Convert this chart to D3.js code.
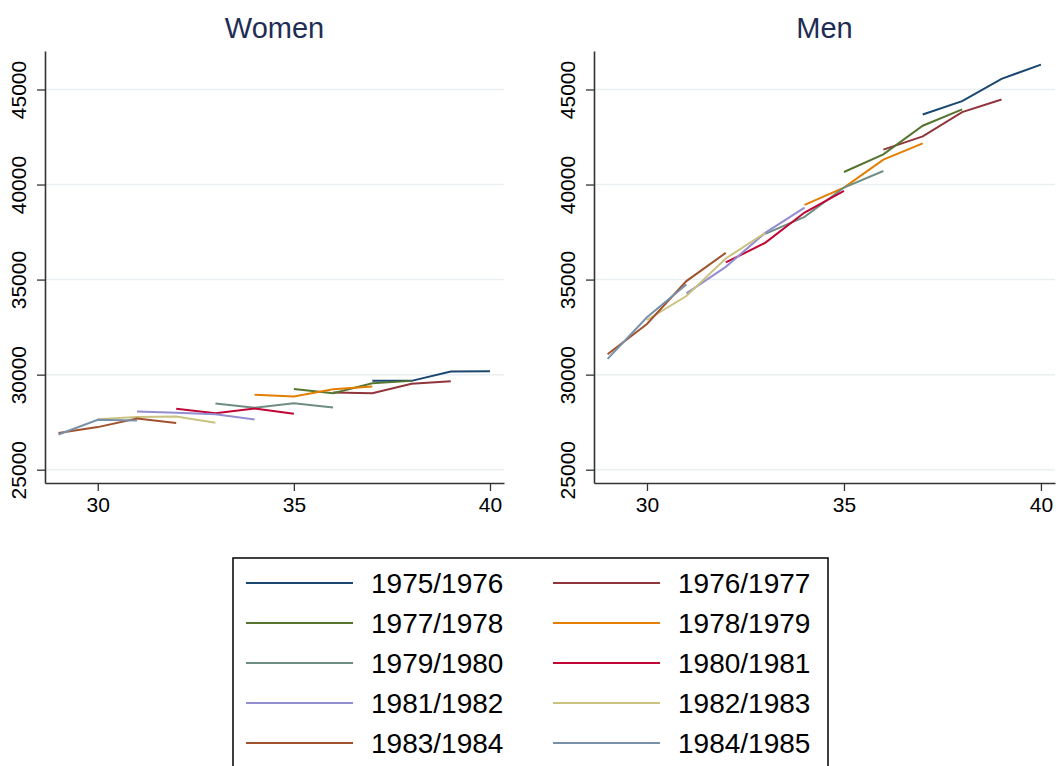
<!DOCTYPE html>
<html>
<head>
<meta charset="utf-8">
<script src="https://cdn.jsdelivr.net/npm/d3@7/dist/d3.min.js"></script>
<style>
  html, body { margin: 0; padding: 0; background: #fff; }
  svg { display: block; font-family: "Liberation Sans", Arial, sans-serif; }
</style>
</head>
<body>
<svg id="chart" width="1058" height="766"></svg>
<script>
// ---- Data ----
const cohorts = ["1975/1976","1976/1977","1977/1978","1978/1979","1979/1980",
                 "1980/1981","1981/1982","1982/1983","1983/1984","1984/1985"];
const colors = ["#1a476f","#90353b","#55752f","#e37e00","#6e8e84",
                "#c10534","#938dd2","#cac27e","#a0522d","#7890a8"];
const ages = [
  [37,38,39,40],
  [36,37,38,39],
  [35,36,37,38],
  [34,35,36,37],
  [33,34,35,36],
  [32,33,34,35],
  [31,32,33,34],
  [30,31,32,33],
  [29,30,31,32],
  [29,30,31]
];
const womenValues = [
  [29672, 29672, 30160, 30180],
  [29060, 29025, 29515, 29655],
  [29250, 29025, 29550, 29672],
  [28937, 28850, 29236, 29372],
  [28480, 28254, 28500, 28270],
  [28200, 27975, 28217, 27940],
  [28060, 27990, 27920, 27640],
  [27660, 27766, 27800, 27467],
  [26926, 27240, 27693, 27450],
  [26853, 27625, 27590]
];
const menValues = [
  [43687, 44385, 45560, 46310],
  [41834, 42530, 43808, 44474],
  [40660, 41587, 43093, 43950],
  [38926, 39837, 41309, 42165],
  [37404, 38296, 39840, 40710],
  [35900, 36932, 38525, 39660],
  [34275, 35671, 37457, 38790],
  [32874, 34133, 36110, 37457],
  [31072, 32664, 34920, 36406],
  [30826, 33015, 34747]
];
const xTicks = [30, 35, 40];
const yTicks = [25000, 30000, 35000, 40000, 45000];
const panelTitles = ["Women", "Men"];

// ---- Layout ----
const svg = d3.select("#chart");
const panels = [
  { title: panelTitles[0], values: womenValues, left: 45, right: 504 },
  { title: panelTitles[1], values: menValues, left: 594, right: 1055 }
];
const plotTop = 51, plotBottom = 483;
const xDomain = [28.655, 40.357];
const yDomain = [24300, 47024];

panels.forEach(p => {
  const x = d3.scaleLinear().domain(xDomain).range([p.left, p.right]);
  const y = d3.scaleLinear().domain(yDomain).range([plotBottom, plotTop]);
  const g = svg.append("g");

  // gridlines
  g.selectAll("line.grid").data(yTicks).enter().append("line")
    .attr("x1", p.left).attr("x2", p.right)
    .attr("y1", d => y(d)).attr("y2", d => y(d))
    .attr("stroke", "#eaf0f1").attr("stroke-width", 1.5);

  // axes
  const xAxis = d3.axisBottom(x).tickValues(xTicks).tickSize(8).tickPadding(6).tickSizeOuter(0);
  const gx = g.append("g").attr("transform", `translate(0,${plotBottom})`).call(xAxis);
  gx.select(".domain").attr("stroke", "#333").attr("stroke-width", 1.6);
  gx.selectAll(".tick line").attr("stroke", "#333").attr("stroke-width", 1.3);
  gx.selectAll(".tick text").attr("font-size", 21).attr("fill", "#000")
    .attr("font-family", "Liberation Sans, Arial, sans-serif");

  const yAxis = d3.axisLeft(y).tickValues(yTicks).tickSize(8).tickFormat(d3.format("d")).tickSizeOuter(0);
  const gy = g.append("g").attr("transform", `translate(${p.left},0)`).call(yAxis);
  gy.select(".domain").attr("stroke", "#333").attr("stroke-width", 1.6);
  gy.selectAll(".tick line").attr("stroke", "#333").attr("stroke-width", 1.3);
  gy.selectAll(".tick text").attr("font-size", 21).attr("fill", "#000")
    .attr("font-family", "Liberation Sans, Arial, sans-serif")
    .attr("text-anchor", "middle")
    .attr("x", 0).attr("y", 0).attr("dy", 0)
    .attr("transform", "translate(-19,0) rotate(-90)");

  // title
  g.append("text")
    .attr("x", (p.left + p.right) / 2).attr("y", 38)
    .attr("text-anchor", "middle")
    .attr("font-size", 29).attr("fill", "#1e2d55")
    .text(p.title);

  // lines
  const line = d3.line().x(d => x(d[0])).y(d => y(d[1]));
  cohorts.forEach((c, i) => {
    const pts = ages[i].map((a, j) => [a, p.values[i][j]]);
    g.append("path").datum(pts)
      .attr("d", line)
      .attr("fill", "none")
      .attr("stroke", colors[i])
      .attr("stroke-width", 2);
  });
});

// ---- Legend ----
const lg = svg.append("g");
lg.append("rect")
  .attr("x", 233).attr("y", 558).attr("width", 595).attr("height", 230)
  .attr("fill", "#fff").attr("stroke", "#000").attr("stroke-width", 1.5);
cohorts.forEach((c, i) => {
  const col = i % 2, row = Math.floor(i / 2);
  const ox = 246 + col * 307;
  const oy = 583 + row * 40;
  lg.append("line")
    .attr("x1", ox).attr("x2", ox + 107)
    .attr("y1", oy).attr("y2", oy)
    .attr("stroke", colors[i]).attr("stroke-width", 2);
  lg.append("text")
    .attr("x", ox + 125).attr("y", oy + 10)
    .attr("font-size", 28).attr("fill", "#000")
    .text(c);
});
</script>
</body>
</html>
